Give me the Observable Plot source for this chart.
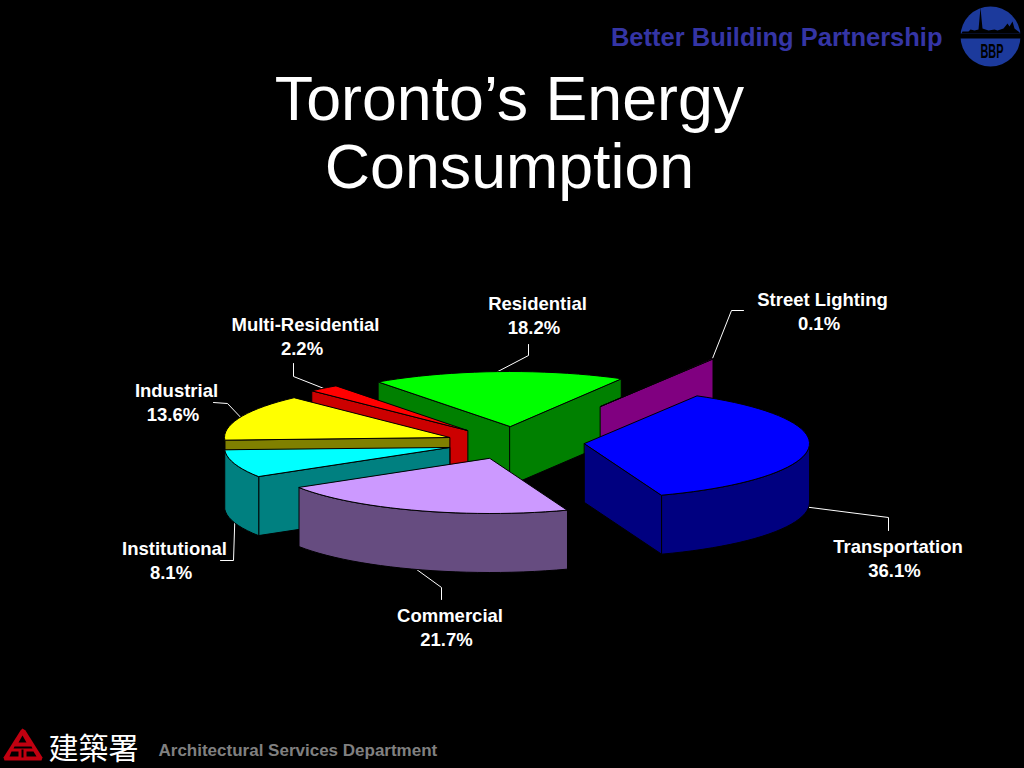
<!DOCTYPE html>
<html>
<head>
<meta charset="utf-8">
<script src="https://cdn.jsdelivr.net/npm/d3@7"></script>
<script src="https://cdn.jsdelivr.net/npm/@observablehq/plot@0.6"></script>
<style>html,body{margin:0;padding:0;background:#000;overflow:hidden}svg{display:block}</style>
</head>
<body>
<div id="chart"></div>
<script>
// Data
const names  = ["Transportation","Commercial","Institutional","Industrial","Multi-Residential","Residential","Street Lighting"];
const values = [36.1,21.7,8.1,13.6,2.2,18.2,0.1];

// Styles
const topColors  = ["#0000ff","#cc99ff","#00ffff","#ffff00","#ff0000","#00ff00","#ff00ff"];
const wallColors = ["#000080","#664c80","#008080","#808000","#cc0000","#008000","#800080"];

// Layout of the exploded slices (apex of each slice)
const apexX = [584,489.5,449,449,467,509.5,600];
const apexY = [443,458,447,437,430,426,406];
const radiusX = 225, radiusY = 55, depth = 59, startDeg = -60;
const drawOrder = [5,6,4,3,2,1,0];

// Layout of labels and leaders
const elbow1X = [888,441,233,227,293,528,731];
const elbow1Y = [517,587,560,403,376,355,310];
const elbow2X = [888,441,220,213,293,528,743];
const elbow2Y = [530,599,560,402,363,344,310];
const labelX  = [897.5,449.5,174,176,305,537,822];
const labelY  = [547,616,549,391,325,304,300];
const valueOffsetX = -3.5, valueOffsetY = 24;

// Slice angles from the values
const rad = Math.PI/180;
const total = d3.sum(values);
let acc = startDeg;
const slices = values.map((v,i)=>{const a0=acc; acc+=v/total*360; return {i,a0,a1:acc};});

const pt = (s,a,drop=0)=>({
  x: apexX[s.i]+radiusX*Math.cos(a*rad),
  y: apexY[s.i]+radiusY*Math.sin(a*rad)+drop
});
const arcPts = (s,a0,a1,drop=0)=>{
  const n = Math.max(2,Math.ceil((a1-a0)/3));
  return d3.range(n+1).map(k=>pt(s,a0+(a1-a0)*k/n,drop));
};

// Faces drawn back to front
const faces = [];
const addFace = (id,fill,pts)=>pts.forEach(p=>faces.push({face:id,fill,x:p.x,y:p.y}));
for (const i of drawOrder) {
  const s = slices[i];
  const apex = {x:apexX[i],y:apexY[i]}, apexLow = {x:apex.x,y:apex.y+depth};
  for (const [key,a,show] of [["start",s.a0,Math.cos(s.a0*rad)<0],["end",s.a1,Math.cos(s.a1*rad)>0]]) {
    if (show) addFace(`${i}-${key}`,wallColors[i],[apex,pt(s,a),pt(s,a,depth),apexLow]);
  }
  // outer curved wall: only the near half of the ellipse shows
  for (const [lo,hi] of [[0,180],[360,540]]) {
    const a0 = Math.max(s.a0,lo), a1 = Math.min(s.a1,hi);
    if (a1>a0) addFace(`${i}-rim${lo}`,wallColors[i],[...arcPts(s,a0,a1),...arcPts(s,a0,a1,depth).reverse()]);
  }
  addFace(`${i}-top`,topColors[i],[apex,...arcPts(s,s.a0,s.a1)]);
}

// Leaders start at the slice's outer edge at its middle angle
const leaders = [];
slices.forEach(s=>{
  const mid=(s.a0+s.a1)/2;
  const p=pt(s,mid,Math.sin(mid*rad)>0?depth:0);
  [p,{x:elbow1X[s.i],y:elbow1Y[s.i]},{x:elbow2X[s.i],y:elbow2Y[s.i]}]
    .forEach(q=>leaders.push({id:s.i,x:q.x,y:q.y}));
});
const nameLabels = names.map((n,i)=>({x:labelX[i],y:labelY[i],text:n}));
const valueLabels = values.map((v,i)=>({x:labelX[i]+valueOffsetX,y:labelY[i]+valueOffsetY,text:`${v}%`}));

// Logos
const skyline = [[961,33],[962,31],[968,31],[970,29],[974,30],[978,29],[979,18],[980,7],[981,18],[982,28],[988,30],[994,29],[997,30],[1003,28],[1007,23],[1009,26],[1012,21],[1014,28],[1018,31],[1020,33]];
const logoRed = [[22,728],[25,730],[42,757],[41,760],[4,760],[3,757],[20,730]];
const logoHoles = [
  [[22,735],[26,742],[18,742]],
  [[14,746],[31,746],[32,748],[13,748]],
  [[11,751],[18,751],[18,756],[9,756]],
  [[21,749],[23,749],[23,757],[21,757]],
  [[26,751],[33,751],[36,756],[26,756]]
];
const poly = (pts,fill)=>Plot.line(pts,{x:d=>d[0],y:d=>d[1],fill,stroke:"none",curve:"linear-closed"});
const sans = "Liberation Sans, Arial, sans-serif";

const plot = Plot.plot({
  width:1024,height:768,margin:0,
  style:{background:"#000"},
  x:{domain:[0,1024],range:[0,1024],axis:null},
  y:{domain:[0,768],range:[0,768],axis:null},
  color:{type:"identity"},
  marks:[
    Plot.line(leaders,{x:"x",y:"y",z:"id",stroke:"#fff",strokeWidth:1,curve:"linear"}),
    Plot.line(faces,{x:"x",y:"y",z:"face",fill:"fill",stroke:"#000",strokeWidth:1,curve:"linear-closed"}),
    Plot.text(nameLabels,{x:"x",y:"y",text:"text",fill:"#fff",fontSize:18.5,fontWeight:"bold",fontFamily:sans}),
    Plot.text(valueLabels,{x:"x",y:"y",text:"text",fill:"#fff",fontSize:18.5,fontWeight:"bold",fontFamily:sans}),
    Plot.text([{x:509,y:132,t:"Toronto’s Energy\nConsumption"}],{x:"x",y:"y",text:"t",fill:"#fff",fontSize:62.7,fontFamily:sans,lineHeight:1.085,lineAnchor:"middle"}),
    Plot.text([{x:942,y:37,t:"Better Building Partnership"}],{x:"x",y:"y",text:"t",fill:"#3535a5",fontSize:25.5,fontWeight:"bold",fontFamily:sans,textAnchor:"end"}),
    Plot.text([{x:158,y:750,t:"Architectural Services Department"}],{x:"x",y:"y",text:"t",fill:"#808080",fontSize:17,fontWeight:"bold",fontFamily:sans,textAnchor:"start"}),
    Plot.text([{x:48,y:749,t:"建築署"}],{x:"x",y:"y",text:"t",fill:"#fff",fontSize:30,fontFamily:"Noto Sans CJK TC",textAnchor:"start"}),
    Plot.dot([{x:990,y:36}],{x:"x",y:"y",r:30,fill:"#1c3a9c",stroke:"none"}),
    Plot.ruleY([35.5],{x1:958,x2:1022,stroke:"#000",strokeWidth:5}),
    poly(skyline,"#000"),
    Plot.text([{x:991.5,y:51,t:"BBP"}],{x:"x",y:"y",text:"t",fill:"#000",fontSize:21,fontWeight:"bold",fontFamily:sans,className:"bbp"}),
    poly(logoRed,"#c00010"),
    ...logoHoles.map(h=>poly(h,"#000"))
  ]
});
// The logo's lettering is condensed
plot.querySelectorAll(".bbp text").forEach(t=>{
  t.setAttribute("textLength","23");
  t.setAttribute("lengthAdjust","spacingAndGlyphs");
});
document.getElementById("chart").append(plot);
</script>
</body>
</html>
